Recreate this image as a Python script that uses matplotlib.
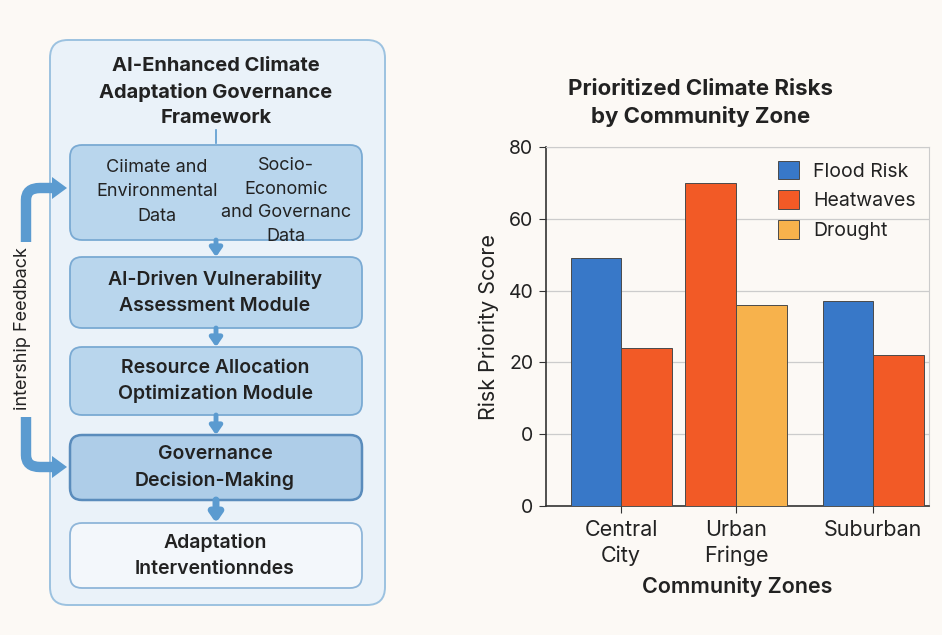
import matplotlib.pyplot as plt
from matplotlib.patches import FancyBboxPatch, PathPatch, Polygon
from matplotlib.path import Path

plt.rcParams['font.family'] = ['Inter', 'DejaVu Sans']

# bar chart data (scores as read on the axis labels)
zones = ["Central\nCity", "Urban\nFringe", "Suburban"]
risk_types = ["Flood Risk", "Heatwaves", "Drought"]
flood_risk = [49, 0, 37]
heatwaves = [24, 70, 22]
drought = [0, 36, 0]
tick_values = [-20, 0, 20, 40, 60, 80]
tick_labels = ["0", "0", "20", "40", "60", "80"]

# flowchart stages
stages = [
    "AI-Driven Vulnerability\nAssessment Module",
    "Resource Allocation\nOptimization Module",
    "Governance\nDecision-Making",
    "Adaptation\nInterventionndes",
]

BG = "#fcf9f5"
colors = ["#3878c8", "#f25a26", "#f7b24c"]
arrow_blue = "#5b9bd0"

fig = plt.figure(figsize=(9.42, 6.35), dpi=100, facecolor=BG)

# ---- left panel: framework diagram, drawn in pixel coords ----
ax_d = fig.add_axes([0, 0, 1, 1])
ax_d.set_xlim(0, 942)
ax_d.set_ylim(635, 0)
ax_d.axis("off")


def rbox(x0, y0, x1, y1, fc, ec, lw=1.3, r=12):
    p = FancyBboxPatch((x0, y0), x1 - x0, y1 - y0,
                       boxstyle=f"round,pad=0,rounding_size={r}",
                       fc=fc, ec=ec, lw=lw)
    ax_d.add_patch(p)


def down_arrow(x, y0, y1, lw=3.5):
    ax_d.annotate("", xy=(x, y1), xytext=(x, y0),
                  arrowprops=dict(arrowstyle="-|>,head_width=0.35,head_length=0.5",
                                  color=arrow_blue, lw=lw, shrinkA=0, shrinkB=0))


rbox(50, 40, 385, 605, "#eaf2f9", "#9cc2e0", lw=1.4, r=18)

ax_d.text(216, 92, "AI-Enhanced Climate\nAdaptation Governance\nFramework",
          ha="center", va="center", fontsize=14.5, fontweight="bold",
          color="#222222", linespacing=1.5)

# data inputs box
rbox(70, 145, 362, 240, "#b9d6ed", "#7aaad3")
ax_d.plot([216, 216], [130, 143], color=arrow_blue, lw=1.2)
ax_d.text(157, 192, "Ciimate and\nEnvironmental\nData", ha="center", va="center",
          fontsize=13, color="#222222", linespacing=1.55)
ax_d.text(286, 201, "Socio-\nEconomic\nand Governanc\nData", ha="center",
          va="center", fontsize=13, color="#222222", linespacing=1.5)

stage_rows = [(257, 328), (347, 415), (435, 500), (523, 588)]
stage_fc = ["#b9d6ed", "#b9d6ed", "#aecde8", "#f3f7fb"]
stage_ec = ["#7aaad3", "#7aaad3", "#5a8cbc", "#8fb6d9"]
stage_lw = [1.3, 1.3, 1.8, 1.3]
for (y0, y1), label, fc, ec, lw in zip(stage_rows, stages, stage_fc, stage_ec, stage_lw):
    rbox(70, y0, 362, y1, fc, ec, lw=lw)
    ax_d.text(215, (y0 + y1) / 2, label, ha="center", va="center",
              fontsize=14, fontweight="semibold", color="#222222",
              linespacing=1.55)

down_arrow(216, 240, 257)
down_arrow(216, 328, 347)
down_arrow(216, 415, 435)
down_arrow(216, 500, 523, lw=5)

# feedback loop arrows on the left edge
fb_lw = 7.5
top_leg = Path([(26, 242), (26, 200), (26, 188), (40, 188), (54, 188)],
               [Path.MOVETO, Path.LINETO, Path.CURVE3, Path.CURVE3, Path.LINETO])
bot_leg = Path([(26, 417), (26, 455), (26, 467), (40, 467), (54, 467)],
               [Path.MOVETO, Path.LINETO, Path.CURVE3, Path.CURVE3, Path.LINETO])
for pth, yc in ((top_leg, 188), (bot_leg, 467)):
    ax_d.add_patch(PathPatch(pth, fc="none", ec=arrow_blue, lw=fb_lw, capstyle="butt"))
    ax_d.add_patch(Polygon([(52, yc - 11), (67, yc), (52, yc + 11)],
                           closed=True, fc=arrow_blue, ec="none"))
ax_d.text(23, 329, "intership Feedback", rotation=90, ha="center", va="center",
          fontsize=13, color="#222222")

# ---- right panel: grouped bar chart ----
ax = fig.add_axes([546 / 942, 129 / 635, 383 / 942, 359 / 635])
ax.set_facecolor(BG)

group_pos = [1.485, 3.76, 6.475]
series = [flood_risk, heatwaves, drought]
for gi, gx in enumerate(group_pos):
    present = [si for si in range(len(series)) if series[si][gi] > 0]
    for k, si in enumerate(present):
        x = gx + (k - (len(present) - 1) / 2)
        ax.bar(x, series[si][gi] - tick_values[0], bottom=tick_values[0],
               width=1.0, color=colors[si], edgecolor="#4a4a4a", lw=0.7, zorder=3)

ax.set_xlim(0, 7.58)
ax.set_ylim(tick_values[0], tick_values[-1])
ax.set_yticks(tick_values)
ax.set_yticklabels(tick_labels, fontsize=14, color="#222222")
ax.set_xticks(group_pos)
ax.set_xticklabels(zones, fontsize=15.5, color="#222222", linespacing=1.35)
ax.tick_params(axis="y", length=5, color="#333333", pad=4)
ax.tick_params(axis="x", length=5, color="#333333", pad=5)
ax.grid(axis="y", color="#cccccc", lw=0.9, zorder=0)
for side in ("top", "right"):
    ax.spines[side].set_color("#cccccc")
for side in ("left", "bottom"):
    ax.spines[side].set_color("#333333")
    ax.spines[side].set_linewidth(1.2)

ax.set_ylabel("Risk Priority Score", fontsize=15.5, color="#222222", labelpad=7)
ax.set_xlabel("Community Zones", fontsize=15.5, fontweight="semibold",
              color="#222222", labelpad=7)

handles = [plt.Rectangle((0, 0), 1, 1, fc=c, ec="#4a4a4a", lw=0.7) for c in colors]
ax.legend(handles, risk_types, loc="upper right", frameon=False, fontsize=14,
          handlelength=1.1, handleheight=1.1, handletextpad=0.7, labelspacing=0.5,
          borderaxespad=0.3, labelcolor="#222222")

fig.text(701 / 942, 1 - 103 / 635, "Prioritized Climate Risks\nby Community Zone",
         ha="center", va="center", fontsize=16, fontweight="bold",
         color="#222222", linespacing=1.45)

fig.savefig("out.png", dpi=100, facecolor=BG)
